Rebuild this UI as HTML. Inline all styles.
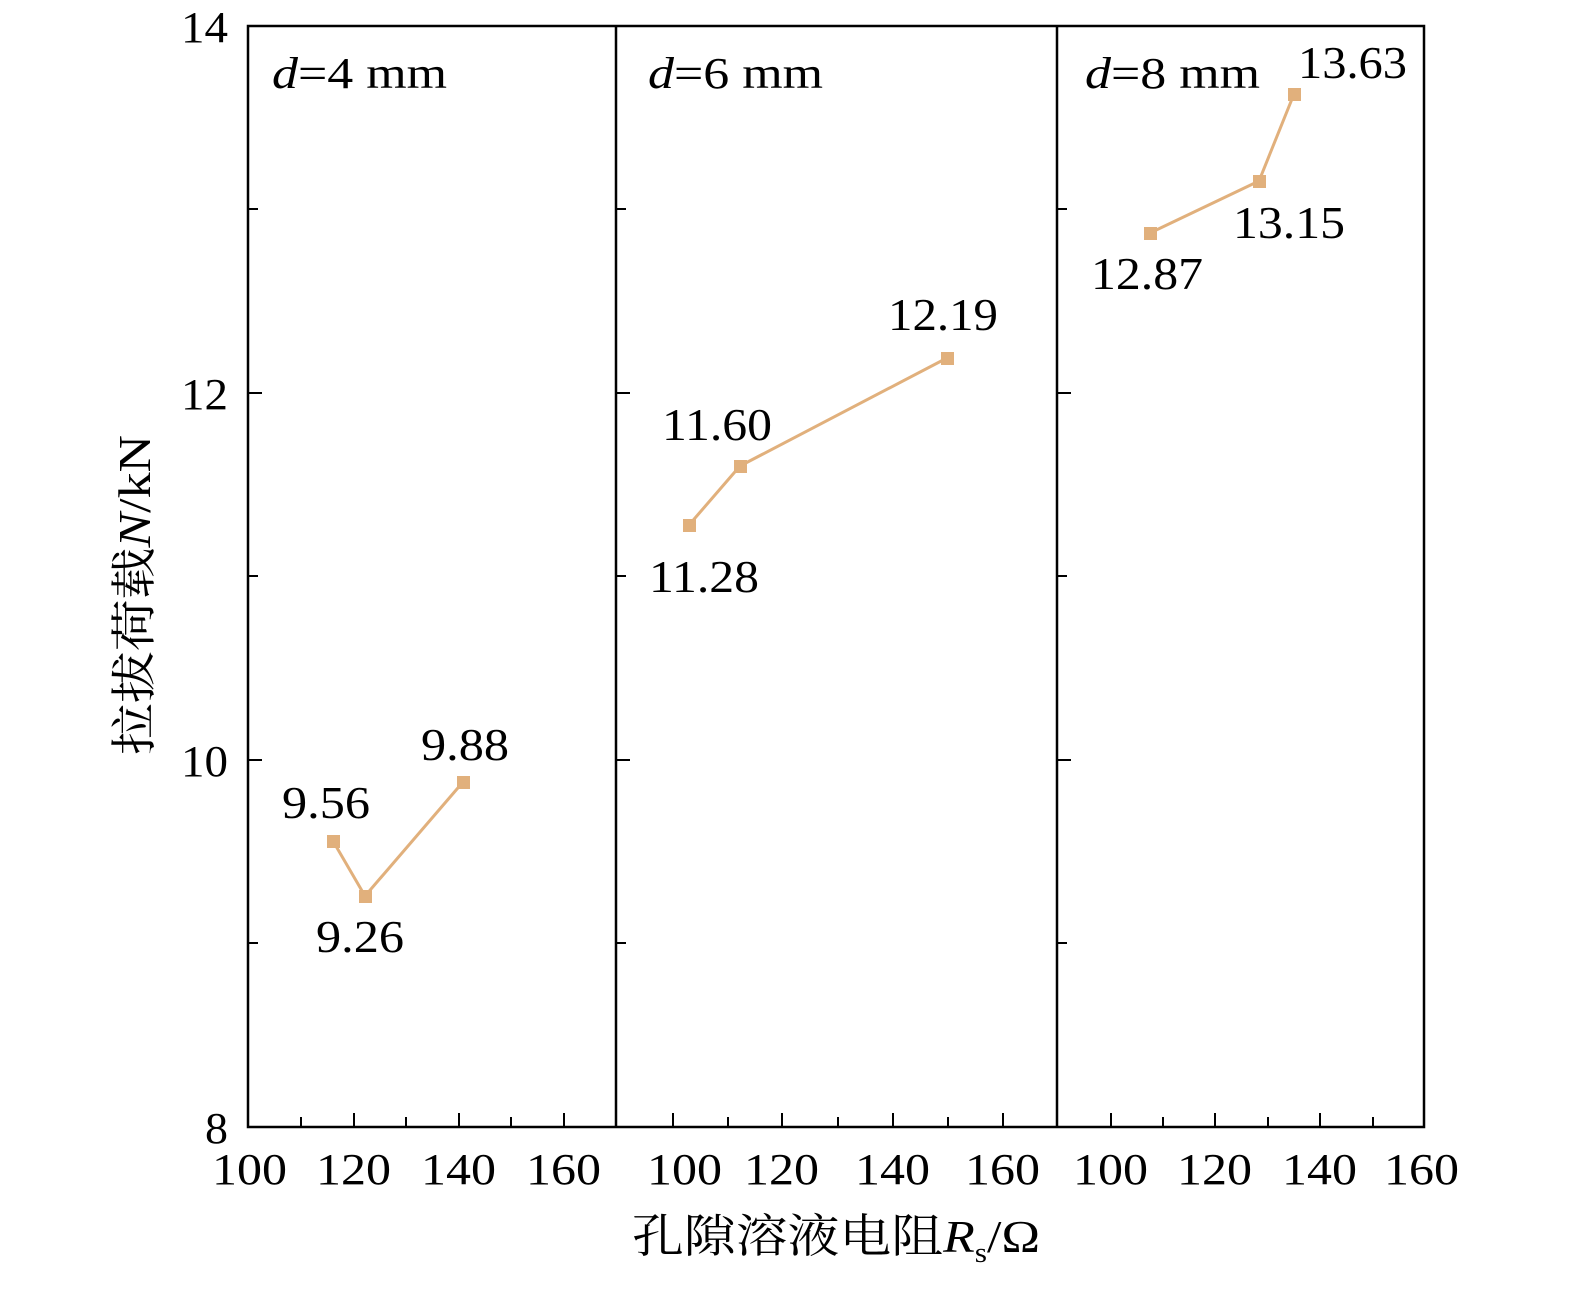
<!DOCTYPE html>
<html><head><meta charset="utf-8"><style>body{margin:0;background:#fff}</style></head>
<body>
<svg width="1575" height="1286" xmlns="http://www.w3.org/2000/svg" font-family="Liberation Serif, Noto Serif CJK SC, serif">
<rect width="1575" height="1286" fill="#fff"/>
<g stroke="#000" stroke-width="2.5" fill="none">
<rect x="248" y="26" width="1176" height="1101"/>
<line x1="616" y1="26" x2="616" y2="1127"/>
<line x1="1057" y1="26" x2="1057" y2="1127"/>
</g>
<g stroke="#000" stroke-width="2">
<path d="M248 209h10M248 393h14M248 576h10M248 760h14M248 943h10
M616 209h10M616 393h14M616 576h10M616 760h14M616 943h10
M1057 209h10M1057 393h14M1057 576h10M1057 760h14M1057 943h10"/>
<path d="M301 1127v-10M354 1127v-14M406 1127v-10M459 1127v-14M511 1127v-10M564 1127v-14
M673 1127v-14M728 1127v-10M782 1127v-14M838 1127v-10M893 1127v-14M948 1127v-10M1003 1127v-14
M1111 1127v-14M1163 1127v-10M1215 1127v-14M1268 1127v-10M1320 1127v-14M1373 1127v-10"/>
</g>
<g font-size="44" lengthAdjust="spacingAndGlyphs">
<text x="181" y="42" textLength="47" lengthAdjust="spacingAndGlyphs">14</text>
<text x="181" y="409" textLength="47" lengthAdjust="spacingAndGlyphs">12</text>
<text x="181" y="776" textLength="47" lengthAdjust="spacingAndGlyphs">10</text>
<text x="205" y="1143" textLength="23" lengthAdjust="spacingAndGlyphs">8</text>
</g>
<g font-size="44">
<text x="212" y="1184" textLength="75" lengthAdjust="spacingAndGlyphs">100</text>
<text x="316" y="1184" textLength="75" lengthAdjust="spacingAndGlyphs">120</text>
<text x="421" y="1184" textLength="75" lengthAdjust="spacingAndGlyphs">140</text>
<text x="526" y="1184" textLength="75" lengthAdjust="spacingAndGlyphs">160</text>
<text x="647" y="1184" textLength="75" lengthAdjust="spacingAndGlyphs">100</text>
<text x="744" y="1184" textLength="75" lengthAdjust="spacingAndGlyphs">120</text>
<text x="855" y="1184" textLength="75" lengthAdjust="spacingAndGlyphs">140</text>
<text x="965" y="1184" textLength="75" lengthAdjust="spacingAndGlyphs">160</text>
<text x="1073" y="1184" textLength="75" lengthAdjust="spacingAndGlyphs">100</text>
<text x="1177" y="1184" textLength="75" lengthAdjust="spacingAndGlyphs">120</text>
<text x="1282" y="1184" textLength="75" lengthAdjust="spacingAndGlyphs">140</text>
<text x="1384" y="1184" textLength="75" lengthAdjust="spacingAndGlyphs">160</text>
</g>
<text x="632" y="1252" font-size="46" textLength="408" lengthAdjust="spacingAndGlyphs">孔隙溶液电阻<tspan font-style="italic">R</tspan><tspan font-size="28" dy="10">s</tspan><tspan dy="-10">/Ω</tspan></text>
<text transform="translate(150,755) rotate(-90)" font-size="46" textLength="320" lengthAdjust="spacingAndGlyphs">拉拔荷载<tspan font-style="italic">N</tspan>/kN</text>
<g font-size="44">
<text x="272" y="88" textLength="175" lengthAdjust="spacingAndGlyphs"><tspan font-style="italic">d</tspan>=4 mm</text>
<text x="648" y="88" textLength="175" lengthAdjust="spacingAndGlyphs"><tspan font-style="italic">d</tspan>=6 mm</text>
<text x="1085" y="88" textLength="175" lengthAdjust="spacingAndGlyphs"><tspan font-style="italic">d</tspan>=8 mm</text>
</g>
<g stroke="#e1b07c" stroke-width="3" fill="none">
<polyline points="333,841 365,896 463,782"/>
<polyline points="689,525 740,466 947,358"/>
<polyline points="1150,233 1259,181 1294,94"/>
</g>
<g fill="#e1b07c">
<rect x="327" y="835" width="13" height="13"/><rect x="359" y="890" width="13" height="13"/><rect x="457" y="776" width="13" height="13"/>
<rect x="683" y="519" width="13" height="13"/><rect x="734" y="460" width="13" height="13"/><rect x="941" y="352" width="13" height="13"/>
<rect x="1144" y="227" width="13" height="13"/><rect x="1253" y="175" width="13" height="13"/><rect x="1288" y="88" width="13" height="13"/>
</g>
<g font-size="46">
<text x="282" y="818" textLength="88" lengthAdjust="spacingAndGlyphs">9.56</text>
<text x="316" y="952" textLength="88" lengthAdjust="spacingAndGlyphs">9.26</text>
<text x="421" y="760" textLength="88" lengthAdjust="spacingAndGlyphs">9.88</text>
<text x="649" y="592" textLength="110" lengthAdjust="spacingAndGlyphs">11.28</text>
<text x="662" y="440" textLength="110" lengthAdjust="spacingAndGlyphs">11.60</text>
<text x="888" y="330" textLength="110" lengthAdjust="spacingAndGlyphs">12.19</text>
<text x="1091" y="289" textLength="112" lengthAdjust="spacingAndGlyphs">12.87</text>
<text x="1233" y="238" textLength="112" lengthAdjust="spacingAndGlyphs">13.15</text>
<text x="1298" y="78" textLength="109" lengthAdjust="spacingAndGlyphs">13.63</text>
</g>
</svg>
</body></html>
